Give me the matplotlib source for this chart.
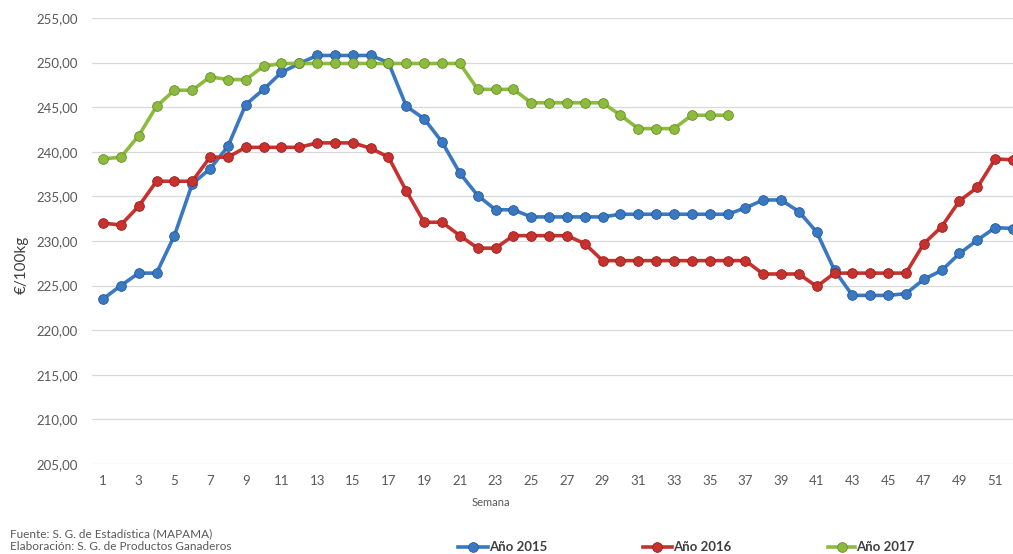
import matplotlib
matplotlib.use("Agg")
import matplotlib.pyplot as plt
from matplotlib.lines import Line2D

weeks = list(range(1, 53))
tick_weeks = list(range(1, 52, 2))
y_ticks = [205, 210, 215, 220, 225, 230, 235, 240, 245, 250, 255]

v2015 = [223.5, 225.0, 226.4, 226.4, 230.6, 236.4, 238.1, 240.6, 245.3, 247.0,
         248.9, 249.9, 250.8, 250.8, 250.8, 250.8, 250.0, 245.1, 243.7, 241.1,
         237.6, 235.1, 233.5, 233.5, 232.7, 232.7, 232.7, 232.7, 232.7, 233.0,
         233.0, 233.0, 233.0, 233.0, 233.0, 233.0, 233.7, 234.6, 234.6, 233.3,
         231.0, 226.7, 223.9, 223.9, 223.9, 224.1, 225.7, 226.7, 228.6, 230.1,
         231.5, 231.4]
v2016 = [232.0, 231.8, 233.9, 236.7, 236.7, 236.7, 239.4, 239.4, 240.5, 240.5,
         240.5, 240.5, 241.0, 241.0, 241.0, 240.4, 239.4, 235.6, 232.1, 232.1,
         230.6, 229.2, 229.2, 230.6, 230.6, 230.6, 230.6, 229.7, 227.8, 227.8,
         227.8, 227.8, 227.8, 227.8, 227.8, 227.8, 227.8, 226.3, 226.3, 226.3,
         224.9, 226.4, 226.4, 226.4, 226.4, 226.4, 229.7, 231.6, 234.5, 236.0,
         239.2, 239.1]
v2017 = [239.2, 239.4, 241.8, 245.1, 246.9, 246.9, 248.4, 248.1, 248.1, 249.6,
         249.9, 249.9, 249.9, 249.9, 249.9, 249.9, 249.9, 249.9, 249.9, 249.9,
         249.9, 247.0, 247.0, 247.0, 245.5, 245.5, 245.5, 245.5, 245.5, 244.1,
         242.6, 242.6, 242.6, 244.1, 244.1, 244.1]

series = [
    ("Año 2015", v2015, "#3A78C2", "#1F5A9E"),
    ("Año 2016", v2016, "#C7322F", "#9A1E1C"),
    ("Año 2017", v2017, "#8DBB3F", "#668F22"),
]

plt.rcParams['font.family'] = ['Lato', 'DejaVu Sans']
W, H = 1013, 554
fig = plt.figure(figsize=(W / 100, H / 100), dpi=100)
ax = fig.add_axes([92 / W, (H - 464) / H, (W - 92) / W, (464 - 18) / H])

for name, vals, col, edge in series:
    ax.plot(weeks[:len(vals)], vals, color=col, lw=2.6, marker='o', ms=7,
            markerfacecolor=col, markeredgecolor=edge, markeredgewidth=0.6,
            solid_joinstyle='round')

ax.set_ylim(205, 255)
ax.set_xlim(0.383, 52.0)
ax.set_yticks(y_ticks)
ax.set_yticklabels([f"{v:.2f}".replace('.', ',') for v in y_ticks])
ax.set_xticks(tick_weeks)
ax.set_xticklabels([str(w) for w in tick_weeks])
ax.tick_params(length=0, labelsize=9.5, colors="#595959", pad=10)
ax.tick_params(axis='x', pad=8)
ax.grid(axis='y', color="#D9D9D9", lw=0.9)
ax.set_axisbelow(True)
for s in ax.spines.values():
    s.set_visible(False)

fig.text(22 / W, 1 - 265 / H, "€/100kg", rotation=90, ha='center', va='center',
         fontsize=11, color="#404040")
fig.text(491 / W, 1 - 502 / H, "Semana", ha='center', va='center',
         fontsize=8, color="#595959")
fig.text(10 / W, 1 - 534 / H, "Fuente: S. G. de Estadística (MAPAMA)",
         ha='left', va='center', fontsize=8.5, color="#595959")
fig.text(10 / W, 1 - 547 / H, "Elaboración: S. G. de Productos Ganaderos",
         ha='left', va='center', fontsize=8.5, color="#595959")

leg_pos = [(458, 473, 489), (643, 657, 673), (828, 842, 856)]
ly = 1 - 547 / H
for (name, vals, col, edge), (x0, xm, xt) in zip(series, leg_pos):
    fig.add_artist(Line2D([x0 / W, (xt - 1) / W], [ly, ly], transform=fig.transFigure,
                          color=col, lw=2.6))
    fig.add_artist(Line2D([xm / W], [ly], transform=fig.transFigure, marker='o', ms=7,
                          color=col, markeredgecolor=edge, markeredgewidth=0.6))
    fig.text(xt / W, ly, name, ha='left', va='center', fontsize=9.5,
             fontweight='bold', color="#404040")

fig.savefig("out.png", dpi=100)
